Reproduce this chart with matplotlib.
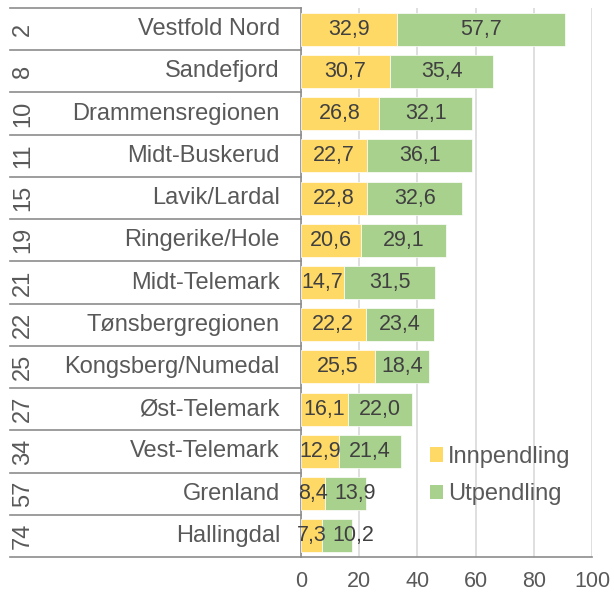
import matplotlib
matplotlib.use("Agg")
import matplotlib.pyplot as plt
import matplotlib.transforms as mtransforms
from matplotlib.patches import Patch

plt.rcParams['font.family'] = ['Liberation Sans', 'DejaVu Sans']

regions = ["Vestfold Nord", "Sandefjord", "Drammensregionen", "Midt-Buskerud",
           "Lavik/Lardal", "Ringerike/Hole", "Midt-Telemark", "Tønsbergregionen",
           "Kongsberg/Numedal", "Øst-Telemark", "Vest-Telemark", "Grenland", "Hallingdal"]
ranks = ["2", "8", "10", "11", "15", "19", "21", "22", "25", "27", "34", "57", "74"]
innpendling = [32.9, 30.7, 26.8, 22.7, 22.8, 20.6, 14.7, 22.2, 25.5, 16.1, 12.9, 8.4, 7.3]
utpendling = [57.7, 35.4, 32.1, 36.1, 32.6, 29.1, 31.5, 23.4, 18.4, 22.0, 21.4, 13.9, 10.2]
xticks = [0, 20, 40, 60, 80, 100]

YEL = "#FFD966"
GRN = "#A9D18E"
TXT = "#595959"
LAB = "#404040"
LINE = "#8c8c8c"

fig = plt.figure(figsize=(6.14, 5.94), dpi=100)
ax = fig.add_axes([301/614, 1-557/594, 291/614, 549/594])

n = len(regions)
ypos = list(range(n))
ax.barh(ypos, innpendling, height=0.78, color=YEL, edgecolor="white", linewidth=0.5, label="Innpendling", zorder=3)
ax.barh(ypos, utpendling, left=innpendling, height=0.78, color=GRN, edgecolor="white", linewidth=0.5, label="Utpendling", zorder=3)

def fmt(v):
    return f"{v:.1f}".replace(".", ",")

ax.set_xlim(0, 100)
ax.set_ylim(n - 0.5, -0.5)

pairs = []
for i in range(n):
    t1 = ax.text(innpendling[i]/2, i, fmt(innpendling[i]), ha="center", va="center", fontsize=15.5, color=LAB, zorder=4)
    t2 = ax.text(innpendling[i] + utpendling[i]/2, i, fmt(utpendling[i]), ha="center", va="center", fontsize=15.5, color=LAB, zorder=4)
    pairs.append((t1, t2))

ax.set_xticks(xticks)
ax.set_xticklabels([str(t) for t in xticks], fontsize=15.5, color=TXT)
ax.set_yticks([])
ax.tick_params(axis="x", length=0, pad=10)
ax.grid(axis="x", color="#d9d9d9", linewidth=1.2, zorder=0)
for s in ["top", "right"]:
    ax.spines[s].set_visible(False)
ax.spines["left"].set_color(LINE)
ax.spines["left"].set_linewidth(1.2)
ax.spines["bottom"].set_color(LINE)
ax.spines["bottom"].set_linewidth(1.2)

# push the second label right when it would collide with the first (as the source does)
fig.canvas.draw()
renderer = fig.canvas.get_renderer()
px_per_unit = ax.transData.transform((1, 0))[0] - ax.transData.transform((0, 0))[0]
gap_px = 6
for t1, t2 in pairs:
    b1 = t1.get_window_extent(renderer)
    b2 = t2.get_window_extent(renderer)
    if b2.x0 < b1.x1 + gap_px:
        x, y = t2.get_position()
        t2.set_position((x + (b1.x1 + gap_px - b2.x0) / px_per_unit, y))

trans = mtransforms.blended_transform_factory(ax.transAxes, ax.transData)
x_left = (10 - 301) / 291
for k in range(n + 1):
    yb = k - 0.5
    ax.plot([x_left, 0], [yb, yb], transform=trans, color=LINE, linewidth=1.2, clip_on=False, zorder=5)

name_x = -21 / 291
rank_x = (23 - 301) / 291
for i in range(n):
    ax.text(name_x, i, regions[i], transform=trans, ha="right", va="center", fontsize=17, color=TXT)
    ax.text(rank_x, i, ranks[i], transform=trans, ha="center", va="center", fontsize=17, color=TXT, rotation=90)

handles = [Patch(facecolor=YEL, edgecolor="none"), Patch(facecolor=GRN, edgecolor="none")]
fig.legend(handles, ["Innpendling", "Utpendling"], loc="center left",
           bbox_to_anchor=(409/614, 1-475.5/594), frameon=False, fontsize=17,
           handlelength=0.55, handleheight=0.55, handletextpad=0.2, labelspacing=0.65,
           labelcolor=TXT)

fig.savefig("out.png", dpi=100)
